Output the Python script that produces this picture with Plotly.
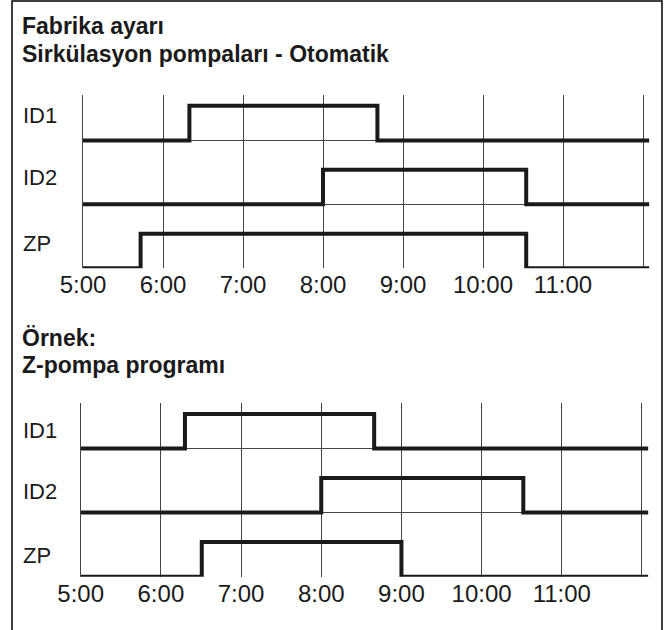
import plotly.graph_objects as go

W, H = 672, 630

hours = [5, 6, 7, 8, 9, 10, 11, 12]
hour_labels = ["5:00", "6:00", "7:00", "8:00", "9:00", "10:00", "11:00", ""]
rows = ["ID1", "ID2", "ZP"]

# Fabrika ayarı - switching times (hours) and states
top_id1_t = [5, 6.33, 8.68, 12.08]
top_id1_s = [0, 1, 0, 0]
top_id2_t = [5, 8.0, 10.54, 12.08]
top_id2_s = [0, 1, 0, 0]
top_zp_t = [5, 5.72, 10.54, 12.08]
top_zp_s = [0, 1, 0, 0]

# Örnek: Z-pompa programı
bot_id1_t = [5, 6.30, 8.66, 12.08]
bot_id1_s = [0, 1, 0, 0]
bot_id2_t = [5, 8.0, 10.52, 12.08]
bot_id2_s = [0, 1, 0, 0]
bot_zp_t = [5, 6.51, 9.0, 12.08]
bot_zp_s = [0, 1, 0, 0]

FONT = "Liberation Sans, Arial, sans-serif"
TXT = "#1a1a1a"
GRID = "#444444"

row_base = {"ID1": 2, "ID2": 1, "ZP": 0}
amp = 0.54


def px_x(x):
    return x / W


def px_y(y):
    return 1 - y / H


fig = go.Figure()

charts = [
    ("x", "y", {"ID1": (top_id1_t, top_id1_s), "ID2": (top_id2_t, top_id2_s), "ZP": (top_zp_t, top_zp_s)}),
    ("x2", "y2", {"ID1": (bot_id1_t, bot_id1_s), "ID2": (bot_id2_t, bot_id2_s), "ZP": (bot_zp_t, bot_zp_s)}),
]
for xa, ya, series in charts:
    for name in rows:
        t, s = series[name]
        fig.add_trace(go.Scatter(
            x=t, y=[row_base[name] + v * amp for v in s],
            mode="lines", line=dict(shape="hv", color="#1a1a1a", width=4),
            xaxis=xa, yaxis=ya, showlegend=False, hoverinfo="skip",
        ))

xcommon = dict(
    range=[5, 12.08], tickvals=hours, ticktext=hour_labels, showgrid=True,
    gridcolor=GRID, gridwidth=1, zeroline=False, showline=False, ticks="",
    tickfont=dict(family=FONT, size=24, color=TXT), fixedrange=True,
    automargin=False,
)
ycommon = dict(
    range=[0, 2.71], tickvals=[0, 1, 2], showgrid=True, gridcolor=GRID,
    gridwidth=1, zeroline=False, showline=True, linecolor=GRID, linewidth=1,
    showticklabels=False, ticks="", automargin=False, fixedrange=True,
)

fig.update_layout(
    width=W, height=H,
    margin=dict(l=0, r=0, t=0, b=0),
    paper_bgcolor="white", plot_bgcolor="white",
    xaxis=dict(domain=[px_x(83), px_x(649.4)], anchor="y", **xcommon),
    yaxis=dict(domain=[px_y(268.3), px_y(95)], anchor="x", **ycommon),
    xaxis2=dict(domain=[px_x(80.7), px_x(648.4)], anchor="y2", **xcommon),
    yaxis2=dict(domain=[px_y(576.7), px_y(403)], anchor="x2", **ycommon),
)

# titles
titles = [
    ("<b>Fabrika ayarı</b>", 26),
    ("<b>Sirkülasyon pompaları - Otomatik</b>", 54),
    ("<b>Örnek:</b>", 338),
    ("<b>Z-pompa programı</b>", 365),
]
for text, yc in titles:
    fig.add_annotation(
        text=text, xref="paper", yref="paper", x=px_x(20), y=px_y(yc),
        xanchor="left", yanchor="middle", showarrow=False,
        font=dict(family=FONT, size=23, color=TXT),
    )

# row labels
label_y = [("ID1", 115), ("ID2", 177), ("ZP", 244), ("ID1", 430), ("ID2", 491), ("ZP", 555)]
for text, yc in label_y:
    fig.add_annotation(
        text=text, xref="paper", yref="paper", x=px_x(21), y=px_y(yc),
        xanchor="left", yanchor="middle", showarrow=False,
        font=dict(family=FONT, size=22, color=TXT),
    )

# outer frame, open at the bottom
fig.add_shape(
    type="path", xref="paper", yref="paper",
    path=f"M {px_x(12)},0 L {px_x(12)},{px_y(1)} L {px_x(662)},{px_y(1)} L {px_x(662)},0",
    line=dict(color="black", width=1.5),
)

# drop the default 8px page margin so the figure sits at the window corner
fig.write_html(
    "out.html",
    config={"displayModeBar": False},
    post_script="document.body.style.margin='0';",
)
